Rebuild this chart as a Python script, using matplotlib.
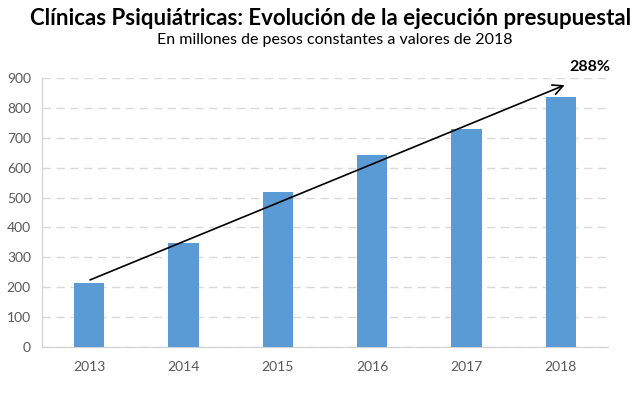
import matplotlib.pyplot as plt

years = ["2013", "2014", "2015", "2016", "2017", "2018"]
ejecucion = [213, 348, 520, 642, 729, 836]
variacion = "288%"

plt.rcParams['font.family'] = ['Lato', 'DejaVu Sans']

fig = plt.figure(figsize=(6.43, 3.93), dpi=100)
ax = fig.add_axes([0.0653, 0.1178, 0.8803, 0.683])

x = range(len(years))
ax.bar(x, ejecucion, width=0.32, color="#5b9bd5", zorder=3)

ax.set_xlim(-0.5, len(years) - 0.5)
ax.set_ylim(0, 900)
ax.set_yticks(range(0, 901, 100))
ax.set_xticks(list(x))
ax.set_xticklabels(years)
ax.tick_params(axis="both", length=0, labelsize=10, colors="#595959")
ax.tick_params(axis="x", pad=10)
ax.tick_params(axis="y", pad=8)
ax.grid(axis="y", linestyle=(0, (6, 4)), color="#d9d9d9", linewidth=1, zorder=0)

for s in ["top", "right"]:
    ax.spines[s].set_visible(False)
ax.spines["left"].set_color("#d0d0d0")
ax.spines["bottom"].set_color("#d0d0d0")

# flecha de tendencia
ax.annotate("", xy=(5.04, 877), xytext=(0.01, 224),
            arrowprops=dict(arrowstyle="->", color="black", lw=1.2,
                            mutation_scale=18, shrinkA=0, shrinkB=0),
            zorder=4, annotation_clip=False)
ax.text(5.31, 938, variacion, ha="center", va="center", fontsize=11.5,
        fontweight="bold", clip_on=False)

fig.text(0.514, 0.953, "Clínicas Psiquiátricas: Evolución de la ejecución presupuestal",
         ha="center", va="center", fontsize=16, fontweight="bold")
fig.text(0.52, 0.898, "En millones de pesos constantes a valores de 2018",
         ha="center", va="center", fontsize=11.5)

fig.savefig("out.png", dpi=100)
